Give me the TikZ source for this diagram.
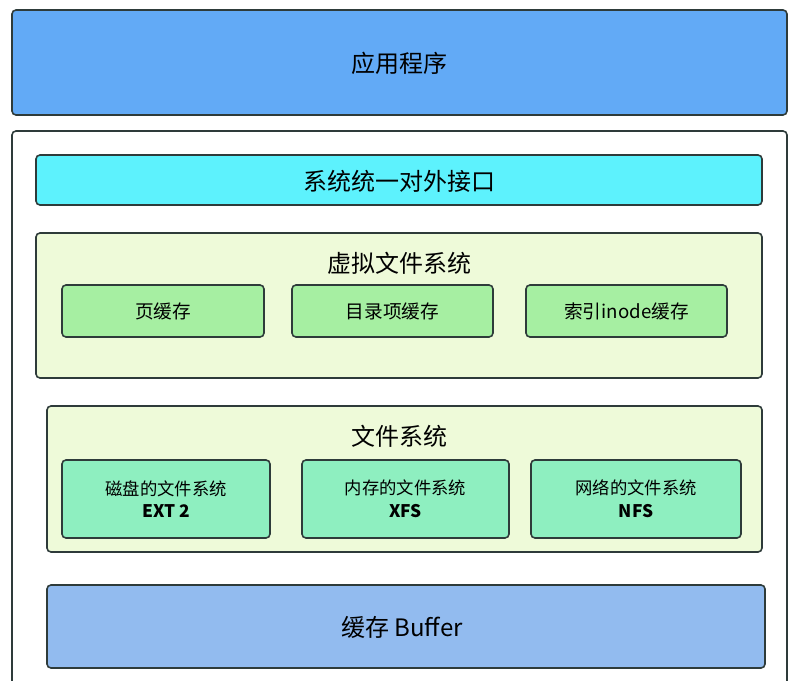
\documentclass[tikz,border=0pt]{standalone}
\usepackage{fontspec}
\setmainfont{Noto Sans CJK SC}
\definecolor{appc}{HTML}{62AAF6}
\definecolor{ifc}{HTML}{5DF2FD}
\definecolor{vfsc}{HTML}{EEFAD9}
\definecolor{cachec}{HTML}{A6EFA2}
\definecolor{fsc}{HTML}{8EEFC0}
\definecolor{bufc}{HTML}{92BBEF}
\definecolor{edge}{HTML}{2E3B3A}
\begin{document}
\begin{tikzpicture}[x=0.75pt,y=-0.75pt,
  box/.style={draw=edge,line width=1.2pt,rounded corners=3pt},
  lbl/.style={font=\fontsize{17}{20}\selectfont}]
\useasboundingbox (0,0) rectangle (800,681);
\fill[white] (0,0) rectangle (800,681);
\draw[box,fill=appc] (12,10) rectangle (787,115);
\node[lbl,font=\fontsize{18}{22}\selectfont] (app) at (399.5,63) {应用程序};
\draw[box,fill=white] (12,131) rectangle (787,690);
\draw[box,fill=ifc] (36,155) rectangle (762,205);
\node[font=\fontsize{18}{22}\selectfont] (if) at (399,181) {系统统一对外接口};
\draw[box,fill=vfsc] (36,233) rectangle (762,378);
\node[font=\fontsize{18}{22}\selectfont] (vfs) at (399,263) {虚拟文件系统};
\foreach \a/\b/\t/\n in {62/264/页缓存/c1,292/493/目录项缓存/c2,526/727/索引inode缓存/c3}{
  \draw[box,fill=cachec] (\a,285) rectangle (\b,337);
  \node[font=\fontsize{14}{17}\selectfont] (\n) at ({(\a+\b)/2},311) {\t};
}
\draw[box,fill=vfsc] (47,406) rectangle (762,552);
\node[font=\fontsize{18}{22}\selectfont] (fs) at (399,436) {文件系统};
\foreach \a/\b/\t/\s/\n in {62/270/磁盘的文件系统/EXT 2/3/4/f1,302/509/内存的文件系统/XFS/f2,531/741/网络的文件系统/NFS/f3}{
  \draw[box,fill=fsc] (\a,460) rectangle (\b,538);
  \node[font=\fontsize{13}{17}\selectfont,align=center] (\n) at ({(\a+\b)/2},499) {\t\\\textbf{\s}};
}
\draw[box,fill=bufc] (47,585) rectangle (765,668);
\node[font=\fontsize{18}{22}\selectfont] (buf) at (402,627) {缓存 Buffer};
\end{tikzpicture}
\end{document}
